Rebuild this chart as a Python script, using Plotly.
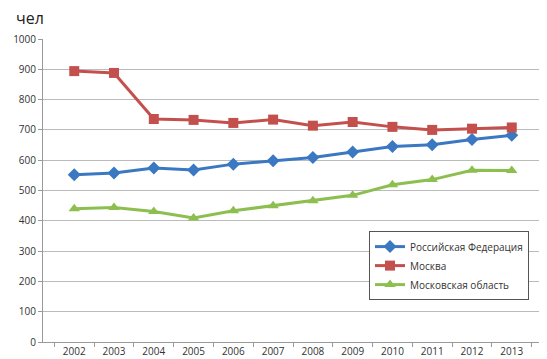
import plotly.graph_objects as go

years = ["2002", "2003", "2004", "2005", "2006", "2007", "2008", "2009", "2010", "2011", "2012", "2013"]
rf = [552, 558, 574, 568, 587, 598, 609, 627, 645, 651, 668, 682]
moscow = [894, 888, 736, 733, 723, 734, 714, 726, 710, 700, 704, 708]
mo = [440, 444, 431, 409, 433, 450, 466, 484, 519, 536, 567, 566]
y_ticks = [0, 100, 200, 300, 400, 500, 600, 700, 800, 900, 1000]

fig = go.Figure()
fig.add_trace(go.Scatter(x=years, y=rf, name="Российская Федерация", mode="lines+markers",
                         line=dict(color="#3a78c2", width=3),
                         marker=dict(symbol="diamond", size=10, color="#3a78c2")))
fig.add_trace(go.Scatter(x=years, y=moscow, name="Москва", mode="lines+markers",
                         line=dict(color="#c4504d", width=3),
                         marker=dict(symbol="square", size=10, color="#c4504d")))
fig.add_trace(go.Scatter(x=years, y=mo, name="Московская область", mode="lines+markers",
                         line=dict(color="#8dbf50", width=3),
                         marker=dict(symbol="triangle-up", size=10, color="#8dbf50")))

fig.update_layout(
    width=547, height=359,
    margin=dict(l=35, r=12, t=31, b=25),
    paper_bgcolor="white", plot_bgcolor="white",
    font=dict(family="Open Sans", size=10, color="#333333"),
    showlegend=True,
    legend=dict(x=0.652, y=0.366, xanchor="left", yanchor="top",
                bgcolor="white", bordercolor="#555555", borderwidth=1,
                font=dict(size=10, color="#333333"), tracegroupgap=2),
    annotations=[dict(text="чел", xref="paper", yref="paper", x=-0.058, y=1.025,
                      xanchor="left", yanchor="bottom", showarrow=False,
                      font=dict(size=16, color="#222222"))],
)
fig.update_xaxes(type="category", showline=True, linecolor="#999999", linewidth=1,
                 ticks="outside", tickson="boundaries", ticklen=4, tickcolor="#999999",
                 showgrid=False, tickfont=dict(size=10), automargin=False)
fig.update_yaxes(range=[0, 1000], tickvals=y_ticks, showline=True, linecolor="#999999",
                 linewidth=1, ticks="outside", ticklen=4, tickcolor="#999999",
                 showgrid=True, gridcolor="#bbbbbb", gridwidth=1, zeroline=False,
                 tickfont=dict(size=10), automargin=False)

fig.write_html("out.html")
